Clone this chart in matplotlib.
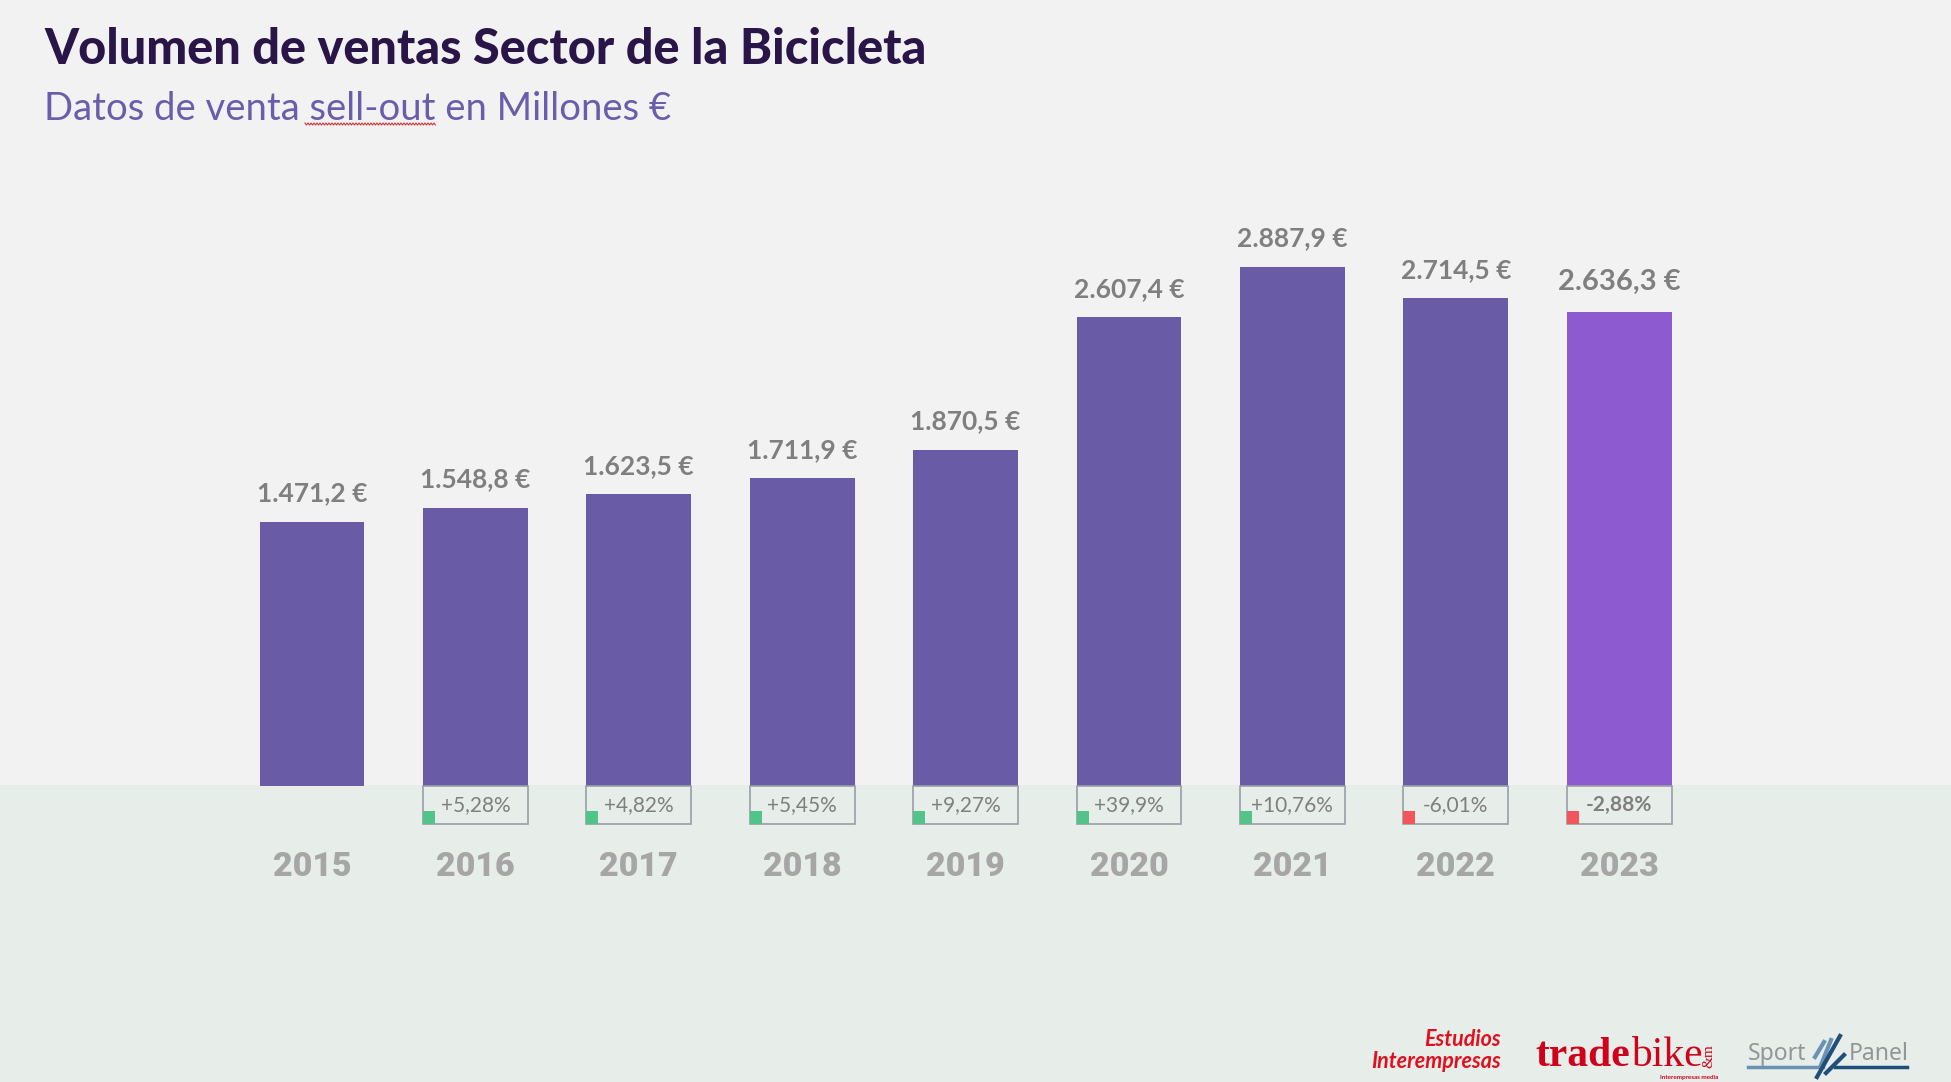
import numpy as np
import matplotlib.pyplot as plt

plt.rcParams["font.family"] = ["Lato", "DejaVu Sans"]
plt.rcParams["axes.unicode_minus"] = False

# 数据：销量（百万欧元）与同比
years = np.arange(2015, 2024)
ventas = [1471.2, 1548.8, 1623.5, 1711.9, 1870.5, 2607.4, 2887.9, 2714.5, 2636.3]
etiquetas = ["1.471,2 €", "1.548,8 €", "1.623,5 €", "1.711,9 €", "1.870,5 €", "2.607,4 €", "2.887,9 €", "2.714,5 €", "2.636,3 €"]
variacion = [5.28, 4.82, 5.45, 9.27, 39.9, 10.76, -6.01, -2.88]
var_texto = ["+5,28%", "+4,82%", "+5,45%", "+9,27%", "+39,9%", "+10,76%", "-6,01%", "-2,88%"]
colores = ["#695ba6"] * 8 + ["#8e5ad0"]
W, H = 1951, 1082

# 画图
fig = plt.figure(figsize=(W / 100, H / 100), dpi=100, facecolor="#f2f2f2")
ax = plt.axes([0, 0, 1, 1])
ax.set_facecolor("#f2f2f2")
plt.xlim(2015 - 312 / 163.4, 2015 + (W - 312) / 163.4)
plt.ylim(-296 / 0.1797, 786 / 0.1797)
plt.axis("off")

# 下方浅绿色背景
plt.axhspan(-296 / 0.1797, 8, color="#e7ede9", zorder=0, lw=0)

plt.bar(years, ventas, width=0.642, color=colores, zorder=2)
for x, v, s in zip(years, ventas, etiquetas):
    plt.annotate(s, (x, v), xytext=(0, 22 if x == 2023 else 20.5), textcoords="offset points", ha="center", va="center",
                 fontsize=21 if x == 2023 else 19, color="#7f7f7f", fontweight="bold")
    plt.text(x, -450, str(x), ha="center", va="center", fontsize=24.5, color="#a6a6a6",
             family=["Roboto", "DejaVu Sans"], fontweight="black")

# 同比小方框
plt.bar(years[1:], [-211] * 8, width=0.642, facecolor="none", edgecolor="#9a9ea8", linewidth=1.2, zorder=3)
for x, p, s in zip(years[1:], variacion, var_texto):
    c = "#52c48a" if p > 0 else "#f4555a"
    plt.bar(x - 0.321, 72, bottom=-211, width=0.0735, align="edge", color=c, zorder=4)
    plt.text(x, -106, s, ha="center", va="center", fontsize=15, color="#7f7f7f", zorder=4,
             fontweight="bold" if x == 2023 else "normal")

# 标题
plt.figtext(44 / W, 1 - 50 / H, "Volumen de ventas Sector de la Bicicleta", fontsize=35, fontweight="black",
            color="#2a1548", va="center")
plt.figtext(44 / W, 1 - 109 / H, "Datos de venta sell-out en Millones €", fontsize=27.5, color="#6a5dab",
            va="center", fontweight="normal")
# 拼写检查红色波浪线
xw = np.arange(305, 436, 1.5)
fig.add_artist(plt.Line2D(xw / W, 1 - (124 + np.tile([-1, 1], len(xw))[:len(xw)]) / H, color="#d0343c", lw=0.8))

# 右下角标识
rojo = "#d0021b"
serif = ["Liberation Serif", "DejaVu Serif"]
plt.figtext(1501 / W, 1 - 1039 / H, "Estudios", fontsize=15.5, color="#e2101f", style="italic", fontweight="bold", ha="right", va="center")
plt.figtext(1371 / W, 1 - 1061 / H, "Interempresas", fontsize=15.5, color="#e2101f", fontweight="bold", style="italic", va="center")
plt.figtext(1535 / W, 1 - 1056 / H, "trade", fontsize=30, color=rojo, fontweight="bold", va="center", family=serif)
plt.figtext(1631 / W, 1 - 1056 / H, "bike", fontsize=30, color=rojo, va="center", family=serif)
plt.figtext(1709 / W, 1 - 1056 / H, "&m", fontsize=11, color=rojo, rotation=90, ha="center", va="center", family=serif)
plt.figtext(1660 / W, 1 - 1077 / H, "Interempresas media", fontsize=4.5, color=rojo, fontweight="bold", va="center")
plt.figtext(1748 / W, 1 - 1054 / H, "Sport", fontsize=16.5, color="#939598", va="center", family=["Noto Sans", "DejaVu Sans"])
plt.figtext(1849 / W, 1 - 1054 / H, "Panel", fontsize=16.5, color="#939598", va="center", family=["Noto Sans", "DejaVu Sans"])
fig.add_artist(plt.Line2D(np.array([1748, 1823]) / W, 1 - np.array([1067, 1067]) / H, color="#6a93b3", lw=2.5))
fig.add_artist(plt.Line2D(np.array([1835, 1907]) / W, 1 - np.array([1067, 1067]) / H, color="#1f4e79", lw=2.5))
for x0, y0, x1, y1, c in [(1815, 1057, 1824, 1042, "#6a93b3"), (1821, 1065, 1831, 1040, "#6a93b3"),
                          (1817, 1077, 1840, 1036, "#1f4e79"), (1826, 1073, 1844, 1055, "#1f4e79")]:
    fig.add_artist(plt.Line2D(np.array([x0, x1]) / W, 1 - np.array([y0, y1]) / H, color=c, lw=3))

plt.savefig("out.png", dpi=100, facecolor=fig.get_facecolor())
